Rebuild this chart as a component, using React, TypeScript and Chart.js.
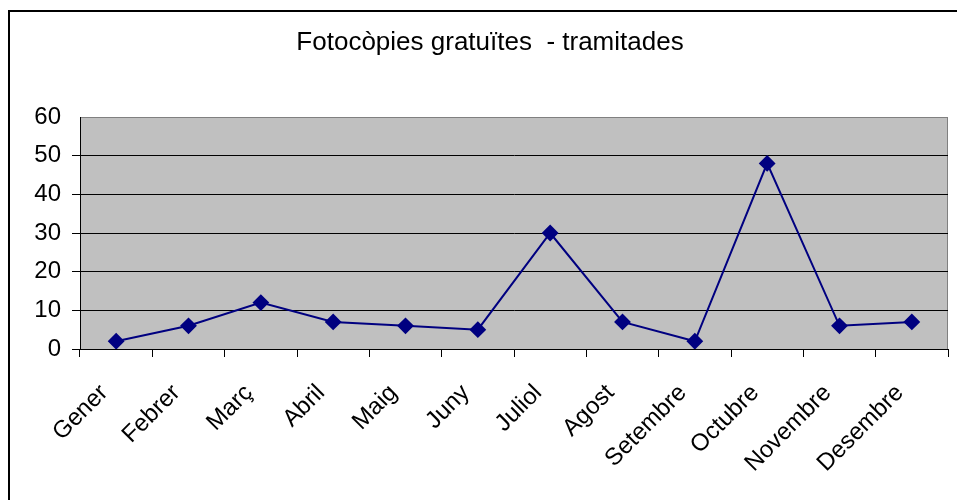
import React, { useEffect, useRef } from "react";
import { Chart, registerables } from "chart.js";

Chart.register(...registerables);

const TITLE = "Fotocòpies gratuïtes  - tramitades";
const MONTHS = ["Gener", "Febrer", "Març", "Abril", "Maig", "Juny", "Juliol", "Agost", "Setembre", "Octubre", "Novembre", "Desembre"];
const VALUES = [2, 6, 12, 7, 6, 5, 30, 7, 2, 48, 6, 7];
const Y_MIN = 0;
const Y_MAX = 60;
const Y_STEP = 10;

const FONT = "'Liberation Sans', Arial, sans-serif";

const decor = {
  id: "decor",
  beforeDraw(chart: any) {
    const { ctx, chartArea: a } = chart;
    ctx.save();
    ctx.fillStyle = "#ffffff";
    ctx.fillRect(0, 0, chart.width, chart.height);
    ctx.fillStyle = "#C0C0C0";
    ctx.fillRect(a.left, a.top, a.right - a.left, a.bottom - a.top);
    ctx.strokeStyle = "#808080";
    ctx.lineWidth = 1;
    ctx.strokeRect(a.left + 0.5, a.top + 0.5, a.right - a.left - 1, a.bottom - a.top);
    ctx.restore();
  },
  afterDraw(chart: any) {
    const { ctx } = chart;
    ctx.save();
    ctx.strokeStyle = "#000000";
    ctx.lineWidth = 2;
    ctx.strokeRect(9, 11, 1200, 1200);
    ctx.fillStyle = "#000000";
    ctx.font = `26px ${FONT}`;
    ctx.textAlign = "center";
    ctx.textBaseline = "middle";
    ctx.fillText(TITLE, 490, 43);
    ctx.restore();
  },
};

export default function App() {
  const ref = useRef<HTMLCanvasElement | null>(null);
  useEffect(() => {
    if (!ref.current) return;
    const chart = new Chart(ref.current, {
      type: "line",
      data: {
        labels: MONTHS,
        datasets: [
          {
            data: VALUES,
            borderColor: "#000080",
            backgroundColor: "#000080",
            borderWidth: 2,
            pointStyle: "rectRot",
            pointRadius: 7,
            pointHoverRadius: 7,
            pointBackgroundColor: "#000080",
            pointBorderColor: "#000080",
            tension: 0,
          },
        ],
      },
      options: {
        animation: false,
        responsive: false,
        devicePixelRatio: 1,
        layout: { padding: { left: 0, top: 117, right: 2, bottom: 0 } },
        plugins: { legend: { display: false }, title: { display: false }, tooltip: { enabled: false } },
        scales: {
          x: {
            type: "category",
            offset: true,
            afterFit: (s: any) => {
              s.height = 151;
              s.paddingLeft = 0;
              s.paddingRight = 0;
            },
            grid: { offset: true, drawOnChartArea: false, drawTicks: true, tickLength: 8, tickColor: "#000000", color: "#000000" },
            border: { color: "#000000", width: 1 },
            ticks: {
              color: "#000000",
              font: { family: FONT, size: 24 },
              minRotation: 45,
              maxRotation: 45,
              autoSkip: false,
              padding: 22,
              labelOffset: -12,
            },
          },
          y: {
            min: Y_MIN,
            max: Y_MAX,
            afterFit: (s: any) => {
              s.width = 80;
            },
            grid: { color: "#000000", drawTicks: true, tickLength: 8, tickColor: "#000000", lineWidth: (c: any) => (c.index === 6 ? 0 : 1) },
            border: { color: "#000000", width: 1 },
            ticks: {
              stepSize: Y_STEP,
              color: "#000000",
              font: { family: FONT, size: 24 },
              padding: 11,
            },
          },
        },
      },
      plugins: [decor],
    });
    return () => chart.destroy();
  }, []);
  return (
    <canvas
      ref={ref}
      width={957}
      height={500}
      style={{ position: "fixed", left: 0, top: 0, width: 957, height: 500 }}
    />
  );
}
